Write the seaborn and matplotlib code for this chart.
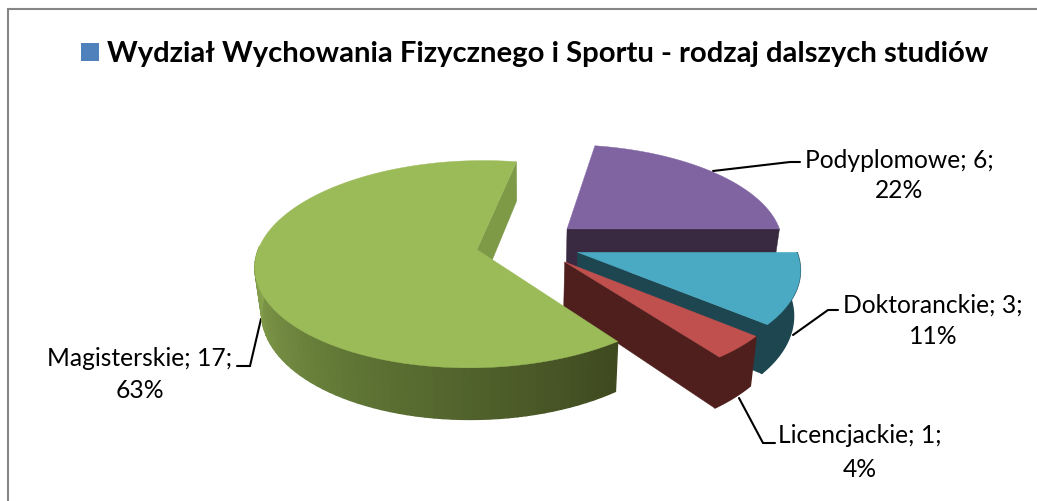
import numpy as np
import seaborn as sns
import matplotlib.pyplot as plt

# data
categories = ['Podyplomowe', 'Doktoranckie', 'Licencjackie', 'Magisterskie']
counts = [6, 3, 1, 17]
percents = ['22%', '11%', '4%', '63%']
top_colors = ['#8064A2', '#4AA9C3', '#C0504D', '#9BBB59']
wall_colors = ['#392941', '#1D4650', '#4E1F1D', '#7E9A47']
title = 'Wydział Wychowania Fizycznego i Sportu - rodzaj dalszych studiów'

# 3d look of the pie (pixels)
START_ANGLE = 10.0
CX, CY = 528.0, 244.0
RX, RY = 217.0, 100.0
PERSP = 0.14
EXPLODE = 0.24
DEPTH = 44.0
SHRINK = 0.975

sns.set_theme(style='white')
plt.rcParams['font.family'] = ['Lato', 'DejaVu Sans']

fig = plt.figure(figsize=(10.37, 5.01), dpi=100)
ax = fig.add_axes([0, 0, 1, 1])
ax.set_xlim(0, 1037)
ax.set_ylim(501, 0)
ax.axis('off')


def project(t_deg, r, off, low=False):
    # t_deg is clockwise from the back of the pie
    t = np.radians(t_deg)
    x = r * np.sin(t) + off[0]
    y = r * np.cos(t) + off[1]
    w = 1 + PERSP * y
    sx = CX + RX * x / w
    sy = CY - RY * y / w
    if low:
        sx = CX + (sx - CX) * SHRINK
        sy = sy + DEPTH / w
    return sx, sy


def wall(ax, xa, ya, xb, yb, color, z):
    ax.fill(np.r_[xa, xb[::-1]], np.r_[ya, yb[::-1]], color=color, lw=1.0, zorder=z)


angles = np.cumsum([0] + counts) / sum(counts) * 360 + START_ANGLE
rim_shades = sns.blend_palette(['#3F4A20', '#5F7535', '#8AA650'], 60)

for i, name in enumerate(categories):
    t0, t1 = angles[i], angles[i + 1]
    mid = np.radians((t0 + t1) / 2)
    off = (EXPLODE * np.sin(mid), EXPLODE * np.cos(mid))
    z = 2 + i * 3

    ts = np.linspace(t0, t1, 120)
    tx, ty = project(ts, 1.0, off)
    ax_, ay_ = project(0.0, 0.0, off)

    # radial side that faces the viewer
    ex, ey = project(t1, 1.0, off)
    ex2, ey2 = project(t1, 1.0, off, low=True)
    ax2, ay2 = project(0.0, 0.0, off, low=True)
    ax.fill([ax_, ex, ex2, ax2], [ay_, ey, ey2, ay2], color=wall_colors[i], lw=0.3, zorder=z)

    # outer rim, only the front part
    lo, hi = max(t0, 90.0), min(t1, 272.0)
    if lo < hi:
        rim = np.linspace(lo, hi, 61)
        xa, ya = project(rim, 1.0, off)
        xb, yb = project(rim, 1.0, off, low=True)
        if name == 'Magisterskie':
            for j in range(60):
                wall(ax, xa[j:j + 2], ya[j:j + 2], xb[j:j + 2], yb[j:j + 2], rim_shades[j], z)
        else:
            wall(ax, xa, ya, xb, yb, wall_colors[i], z)

    # top face
    ax.fill(np.r_[ax_, tx], np.r_[ay_, ty], color=top_colors[i], lw=0.3, zorder=z + 1)

# leader lines, they run under the slices
leaders = {
    'Podyplomowe': ([713, 790, 800], [171, 162, 162]),
    'Doktoranckie': ([793, 828, 838], [335, 310, 310]),
    'Licencjackie': ([739, 763, 775], [398, 443, 443]),
    'Magisterskie': ([261, 250, 237], [319, 366, 366]),
}
# x centre and the two baselines
label_pos = {
    'Podyplomowe': (899, 168, 198),
    'Doktoranckie': (933, 313, 344),
    'Licencjackie': (860, 443, 477),
    'Magisterskie': (140, 366, 398),
}
for i, name in enumerate(categories):
    lx, ly = leaders[name]
    ax.plot(lx, ly, color='black', lw=1.5, zorder=1, solid_joinstyle='miter')
    px, y1, y2 = label_pos[name]
    ax.text(px, y1, f'{name}; {counts[i]};', ha='center', va='baseline', fontsize=17.7, color='black', zorder=21)
    ax.text(px, y2, percents[i], ha='center', va='baseline', fontsize=17.7, color='black', zorder=21)

# title with its legend square
ax.fill([81, 99, 99, 81], [43, 43, 61, 61], color='#4F81BD', lw=0)
ax.text(107, 62, title, ha='left', va='baseline', fontsize=21.05, fontweight='bold', color='black')

# chart frame, only top and left are in the picture
ax.plot([8, 8, 1037], [501, 9, 9], color='#868686', lw=1.5, solid_joinstyle='miter')

fig.savefig('out.png', dpi=100)
plt.close(fig)
